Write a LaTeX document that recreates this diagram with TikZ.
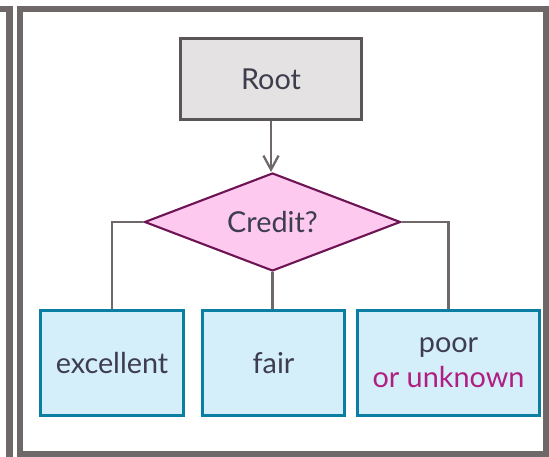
\documentclass[tikz,border=0pt]{standalone}
\usepackage{fontspec}
\setmainfont{Lato}
\usetikzlibrary{shapes.geometric,arrows.meta}

\definecolor{framegray}{RGB}{110,104,104}
\definecolor{rootfill}{RGB}{228,226,227}
\definecolor{rootdraw}{RGB}{91,86,86}
\definecolor{qfill}{RGB}{253,201,239}
\definecolor{qdraw}{RGB}{109,20,84}
\definecolor{leaffill}{RGB}{212,238,250}
\definecolor{leafdraw}{RGB}{11,126,163}
\definecolor{textgray}{RGB}{61,61,77}
\definecolor{unknownpink}{RGB}{176,30,130}

\begin{document}
\begin{tikzpicture}[
	frame/.style={
		draw=framegray,
		line width=4.3pt
	},
	rootbox/.style={
		rectangle,
		draw=rootdraw,
		fill=rootfill,
		line width=1.9pt,
		minimum width=4.53cm,
		minimum height=2.03cm,
		text=textgray,
		font=\fontsize{20.5}{25}\selectfont
	},
	question/.style={
		diamond,
		aspect=2.6,
		draw=qdraw,
		fill=qfill,
		line width=1.5pt,
		minimum width=6.4cm,
		minimum height=2.45cm,
		inner sep=1pt,
		text=textgray,
		font=\fontsize{20.5}{25}\selectfont
	},
	leaf/.style={
		rectangle,
		draw=leafdraw,
		fill=leaffill,
		line width=2.3pt,
		minimum height=2.62cm,
		align=center,
		text=textgray,
		font=\fontsize{20.5}{25}\selectfont
	},
	link/.style={draw=framegray,line width=1.6pt}
]

\useasboundingbox (0,0) rectangle (13.725,-11.425);
\clip (0,0) rectangle (13.725,-11.425);

% Frames
\draw[frame] (-1,-0.225) -| (0.2375,-12);
\draw[frame] (0.5,-0.225) rectangle (13.65,-11.35);

% Root and test
\node[rootbox] (root) at (6.775,-1.975) {Root};
\node[question] (credit) at (6.8125,-5.55) {Credit?};

% Outcomes
\node[leaf,minimum width=3.57cm] (excellent) at (2.8,-9.075) {excellent};
\node[leaf,minimum width=3.54cm] (fair) at (6.8375,-9.075) {fair};
\node[leaf,minimum width=4.54cm] (poor) at (11.2125,-9.075) {poor\\\textcolor{unknownpink}{or unknown}};

% Connections
\draw[link,-{Straight Barb[length=3.5mm,width=3.8mm]}] (root.south) -- (root.south |- credit.north);
\draw[link] (credit.west) -| (excellent.north);
\draw[link] (credit.south) -- (credit.south |- fair.north);
\draw[link] (credit.east) -| (poor.north);

\end{tikzpicture}
\end{document}
